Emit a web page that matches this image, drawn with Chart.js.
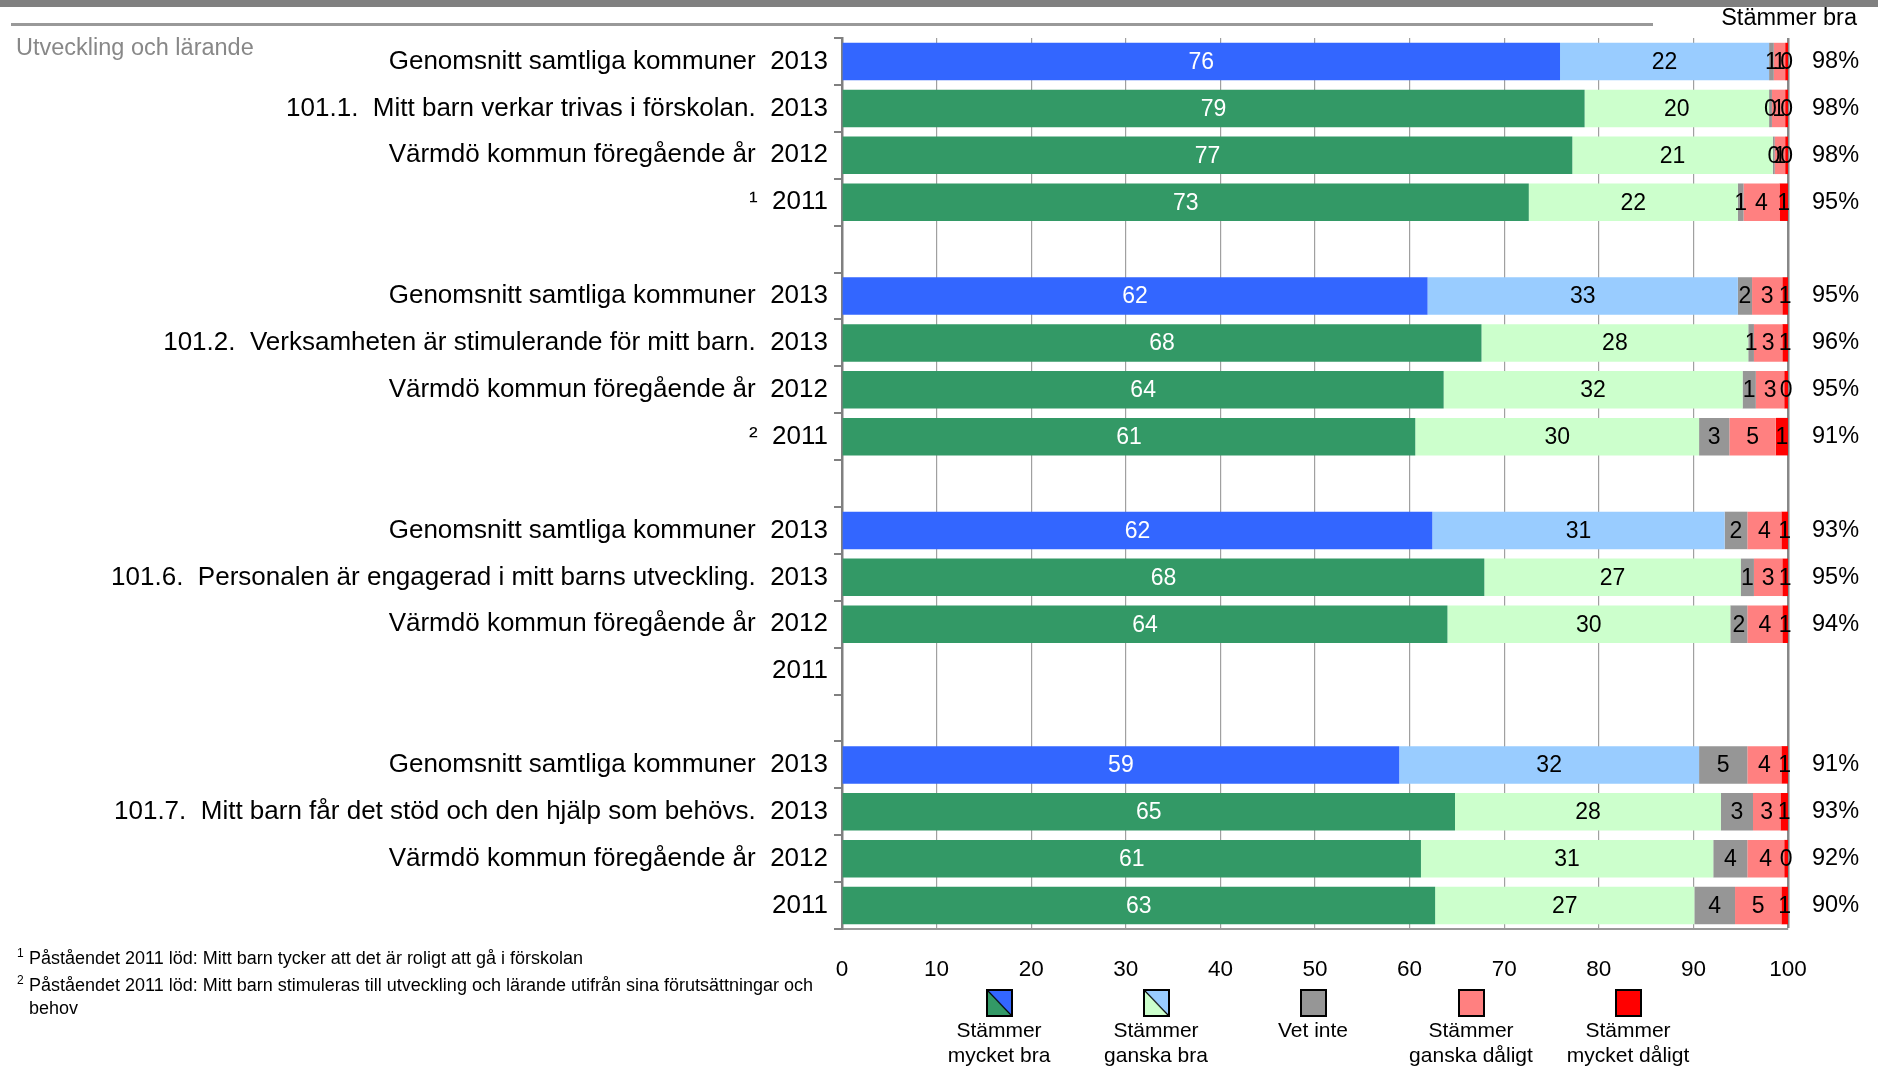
<!DOCTYPE html>
<html>
<head>
<meta charset="utf-8">
<script src="https://cdn.jsdelivr.net/npm/chart.js@4.4.0/dist/chart.umd.min.js"></script>
<style>
    body { margin: 0; background: #fff; font-family: "Liberation Sans", Arial, sans-serif; }
    #page { position: relative; width: 1878px; height: 1069px; overflow: hidden; }
    #chart { position: absolute; left: 0; top: 0; }
    .topbar { position: absolute; left: 0; top: 0; width: 1878px; height: 7px; background: #808080; }
    .topline { position: absolute; left: 11px; top: 23px; width: 1642px; height: 3px; background: #999; }
    .header { position: absolute; right: 21px; top: 6px; font-size: 23.5px; line-height: 23px; color: #000; }
    .section { position: absolute; left: 16px; top: 36px; font-size: 23.5px; line-height: 23px; color: #888; }
    .note { position: absolute; left: 29px; font-size: 18px; line-height: 18px; color: #000; white-space: nowrap; }
    .note sup { position: absolute; left: -12px; top: -5px; font-size: 12px; }
    .legend-item { position: absolute; top: 989px; width: 170px; margin-left: -85px; text-align: center; }
    .legend-box { width: 23px; height: 24px; margin: 0 auto; border: 2px solid #000; }
    .legend-text { position: absolute; top: 28px; width: 170px; font-size: 21px; line-height: 25px; }
</style>
</head>
<body>
<div id="page">
    <canvas id="chart" width="1878" height="1069"></canvas>
    <div class="topbar"></div>
    <div class="topline"></div>
    <div class="header">Stämmer bra</div>
    <div class="section">Utveckling och lärande</div>
    <div class="note" style="top:949px"><sup>1</sup>Påståendet 2011 löd: Mitt barn tycker att det är roligt att gå i förskolan</div>
    <div class="note" style="top:976px"><sup>2</sup>Påståendet 2011 löd: Mitt barn stimuleras till utveckling och lärande utifrån sina förutsättningar och</div>
    <div class="note" style="top:999px">behov</div>
    <div id="legend"></div>
</div>
<script>
// rows top to bottom, empty strings are the gaps between the questions
const categories = [
    "Genomsnitt samtliga kommuner  2013",
    "101.1.  Mitt barn verkar trivas i förskolan.  2013",
    "Värmdö kommun föregående år  2012",
    "¹  2011",
    "",
    "Genomsnitt samtliga kommuner  2013",
    "101.2.  Verksamheten är stimulerande för mitt barn.  2013",
    "Värmdö kommun föregående år  2012",
    "²  2011",
    "",
    "Genomsnitt samtliga kommuner  2013",
    "101.6.  Personalen är engagerad i mitt barns utveckling.  2013",
    "Värmdö kommun föregående år  2012",
    "2011",
    "",
    "Genomsnitt samtliga kommuner  2013",
    "101.7.  Mitt barn får det stöd och den hjälp som behövs.  2013",
    "Värmdö kommun föregående år  2012",
    "2011"
];

const veryGood   = [75.9, 78.5, 77.2, 72.6, null, 61.9, 67.6, 63.6, 60.6, null, 62.4, 67.9, 64.0, null, null, 58.9, 64.8, 61.2, 62.7];
const fairlyGood = [22.1, 19.5, 21.2, 22.1, null, 32.8, 28.2, 31.6, 30.0, null, 30.9, 27.1, 29.9, null, null, 31.7, 28.1, 30.9, 27.4];
const dontKnow   = [0.5, 0.3, 0.2, 0.6, null, 1.5, 0.6, 1.4, 3.2, null, 2.4, 1.4, 1.8, null, null, 5.1, 3.4, 3.6, 4.3];
const fairlyBad  = [1.2, 1.4, 1.1, 3.8, null, 3.2, 3.0, 3.0, 4.9, null, 3.6, 3.0, 3.7, null, null, 3.6, 2.9, 3.9, 4.9];
const veryBad    = [0.3, 0.3, 0.3, 0.9, null, 0.6, 0.6, 0.4, 1.3, null, 0.7, 0.6, 0.6, null, null, 0.7, 0.8, 0.4, 0.7];

// "Stämmer bra" column on the right
const agreeLabels = ["98%", "98%", "98%", "95%", "", "95%", "96%", "95%", "91%", "", "93%", "95%", "94%", "", "", "91%", "93%", "92%", "90%"];

const averageRows = [0, 5, 10, 15];
const xTicks = [0, 10, 20, 30, 40, 50, 60, 70, 80, 90, 100];

const legendNames = ["Stämmer<br>mycket bra", "Stämmer<br>ganska bra", "Vet inte", "Stämmer<br>ganska dåligt", "Stämmer<br>mycket dåligt"];

const FONT = "'Liberation Sans', Arial, sans-serif";

function rowColors(avgColor, color) {
    return categories.map((c, i) => averageRows.includes(i) ? avgColor : color);
}

// values written in the middle of each segment
const segmentLabels = {
    id: 'segmentLabels',
    afterDatasetsDraw(chart) {
        const ctx = chart.ctx;
        ctx.save();
        ctx.font = "23px " + FONT;
        ctx.textAlign = 'center';
        ctx.textBaseline = 'middle';
        chart.data.datasets.forEach((ds, d) => {
            const meta = chart.getDatasetMeta(d);
            meta.data.forEach((bar, i) => {
                const v = ds.data[i];
                if (v === null || v === undefined) return;
                ctx.fillStyle = d === 0 ? '#fff' : '#000';
                ctx.fillText(Math.round(v), (bar.x + bar.base) / 2, bar.y + 1);
            });
        });
        ctx.restore();
    }
};

const ctx = document.getElementById('chart').getContext('2d');
const chart = new Chart(ctx, {
    type: 'bar',
    data: {
        labels: categories,
        datasets: [
            { label: 'Stämmer mycket bra', data: veryGood, backgroundColor: rowColors('#3366FF', '#339966') },
            { label: 'Stämmer ganska bra', data: fairlyGood, backgroundColor: rowColors('#99CCFF', '#CCFFCC') },
            { label: 'Vet inte', data: dontKnow, backgroundColor: '#969696' },
            { label: 'Stämmer ganska dåligt', data: fairlyBad, backgroundColor: '#FF8080' },
            { label: 'Stämmer mycket dåligt', data: veryBad, backgroundColor: '#FF0000' }
        ]
    },
    options: {
        indexAxis: 'y',
        responsive: false,
        animation: false,
        devicePixelRatio: 1,
        layout: { padding: { top: 37, left: 0, right: 0, bottom: 0 } },
        datasets: { bar: { categoryPercentage: 0.8, barPercentage: 1 } },
        plugins: { legend: { display: false }, tooltip: { enabled: false } },
        scales: {
            x: {
                stacked: true,
                min: 0,
                max: 100,
                afterBuildTicks: s => { s.ticks = xTicks.map(v => ({ value: v })); },
                afterFit: s => { s.height = 140; },
                grid: {
                    color: ctx => ctx.tick && ctx.tick.value === 100 ? '#888' : '#a0a0a0',
                    lineWidth: ctx => ctx.tick && ctx.tick.value === 100 ? 2.5 : 1.2,
                    drawTicks: false
                },
                border: { color: '#999', width: 2 },
                ticks: { color: '#000', padding: 27, font: { family: FONT, size: 22.5 } }
            },
            y: {
                stacked: true,
                afterFit: s => { s.width = 842; },
                grid: { drawOnChartArea: false, tickLength: 8, color: '#808080', lineWidth: 2 },
                border: { color: '#808080', width: 2.5 },
                ticks: { autoSkip: false, color: '#000', padding: 6, font: { family: FONT, size: 26 } }
            },
            y2: {
                type: 'category',
                position: 'right',
                labels: agreeLabels,
                offset: true,
                afterFit: s => { s.width = 90; },
                grid: { display: false, drawTicks: false },
                border: { display: false },
                ticks: { autoSkip: false, color: '#000', padding: 24, font: { family: FONT, size: 23.5 } }
            }
        }
    },
    plugins: [segmentLabels]
});

// legend under the axis
const legendBg = [
    "linear-gradient(to top right, transparent calc(50% - 1.2px), #000 50%, transparent calc(50% + 1.2px)), linear-gradient(to top right, #339966 50%, #3366FF 50%)",
    "linear-gradient(to top right, transparent calc(50% - 1.2px), #000 50%, transparent calc(50% + 1.2px)), linear-gradient(to top right, #CCFFCC 50%, #99CCFF 50%)",
    "#969696",
    "#FF8080",
    "#FF0000"
];
const legendX = [999, 1156, 1313, 1471, 1628];
const legend = document.getElementById('legend');
legendNames.forEach((name, i) => {
    const item = document.createElement('div');
    item.className = 'legend-item';
    item.style.left = legendX[i] + 'px';
    item.innerHTML = `<div class="legend-box" style="background:${legendBg[i]}"></div>
        <div class="legend-text">${name}</div>`;
    legend.appendChild(item);
});
</script>
</body>
</html>
